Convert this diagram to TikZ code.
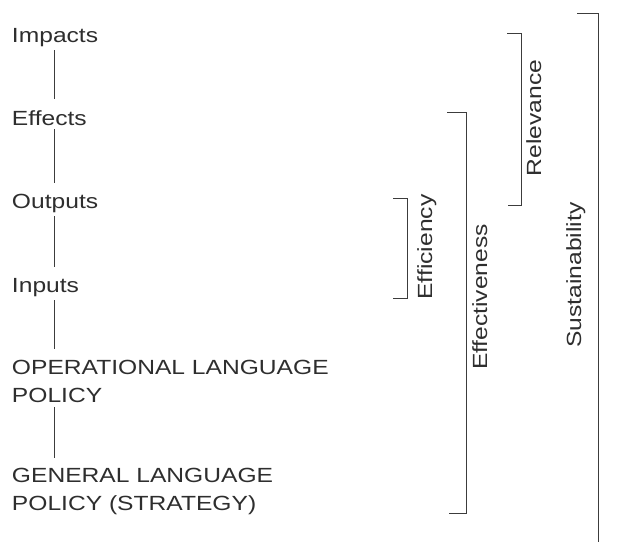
\documentclass[tikz,border=0pt]{standalone}
\usepackage{fontspec}
\setmainfont{Liberation Sans}[FakeStretch=1.2]
\usetikzlibrary{calc}
\definecolor{ink}{HTML}{2E2E2E}
\definecolor{rule}{HTML}{3C3C3C}
\begin{document}
\begin{tikzpicture}[x=1pt,y=-1pt,
  lab/.style={inner sep=0pt, outer sep=0pt, text=ink, font=\fontsize{20.5pt}{28pt}\selectfont, align=left},
  vlab/.style={inner sep=0pt, outer sep=0pt, text=ink, font=\fontsize{20.5pt}{28pt}\selectfont, rotate=90, anchor=base},
  conn/.style={draw=rule, line width=1pt, shorten <=4pt, shorten >=11pt},
  brk/.style={draw=rule, line width=1pt}]
\useasboundingbox (0,0) rectangle (622,542);
% left column
\node[lab, anchor=base west] (impacts) at (12,42) {Impacts};
\node[lab, anchor=base west] (effects) at (12,125) {Effects};
\node[lab, anchor=base west] (outputs) at (12,208) {Outputs};
\node[lab, anchor=base west] (inputs) at (12,292) {Inputs};
\node[lab, anchor=north west] (oper) at (12,360.3) {OPERATIONAL LANGUAGE\\POLICY};
\node[lab, anchor=north west] (gen) at (12,468.5) {GENERAL LANGUAGE\\POLICY (STRATEGY)};
\coordinate (vx) at (54,0);
\draw[conn] (impacts.south -| vx) -- (effects.north -| vx);
\draw[conn] (effects.south -| vx) -- (outputs.north -| vx);
\draw[conn] (outputs.south -| vx) -- (inputs.north -| vx);
\draw[conn] (inputs.south -| vx) -- (oper.north -| vx);
\draw[conn] (oper.south -| vx) -- (gen.north -| vx);
% brackets
\draw[brk] (393,198) -- (407,198) -- (407,298) -- (393,298);
\node[vlab] (eff) at (432,247) {Efficiency};
\draw[brk] (447,112) -- (466,112) -- (466,513) -- (449,513);
\node[vlab] (effv) at (487,297) {Effectiveness};
\draw[brk] (507,33) -- (521,33) -- (521,205) -- (508,205);
\node[vlab] (rel) at (541,118) {Relevance};
\draw[brk] (577,13) -- (598,13) -- (598,542);
\node[vlab] (sus) at (581,275) {Sustainability};
\end{tikzpicture}
\end{document}
